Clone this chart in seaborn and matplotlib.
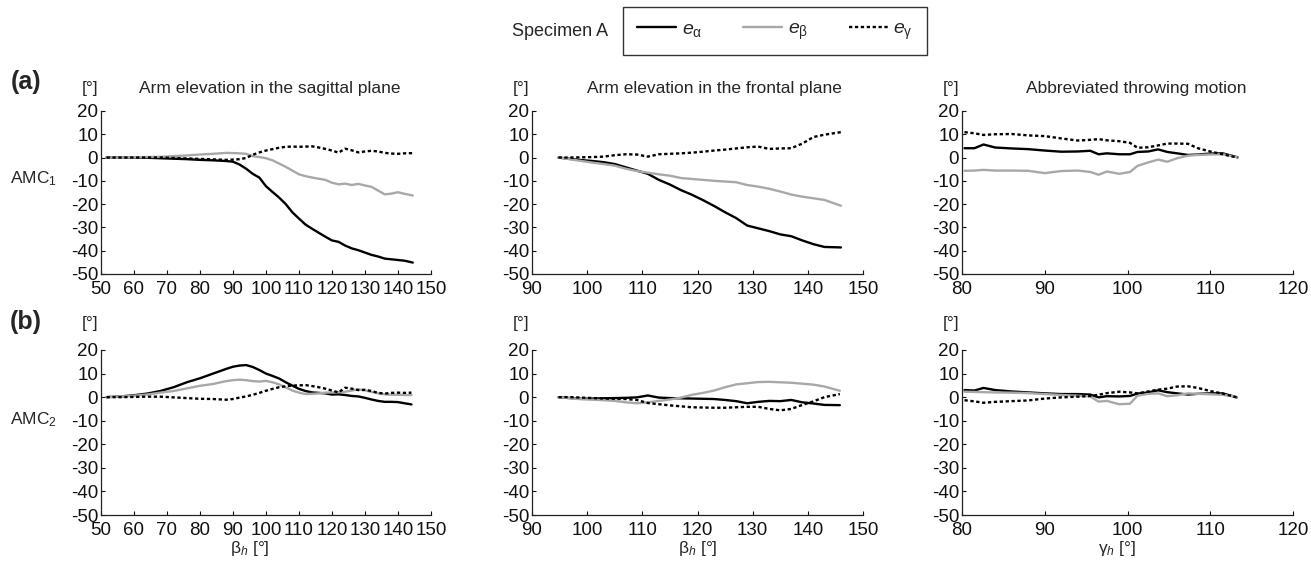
import numpy as np
import pandas as pd
import matplotlib
matplotlib.use("Agg")
import matplotlib.pyplot as plt
import seaborn as sns

# angles in degrees
# row (a) = AMC1, row (b) = AMC2
sag_a_x = [51.7, 56, 60, 64, 68, 72, 76, 80, 84, 88, 90, 92, 94, 96, 98, 100, 102, 104, 106, 108,
           110, 112, 114, 116, 118, 120, 122, 124, 126, 128, 130, 132, 134, 136, 138, 140, 142, 144.5]
sag_a_ea = [0, 0, 0, -0.1, -0.3, -0.5, -0.7, -1.0, -1.2, -1.5, -1.8, -3.0, -4.8, -7.0, -8.6, -12.3, -14.8, -17.2, -20.0, -23.5,
            -26.2, -28.8, -30.6, -32.3, -34.0, -35.6, -36.2, -37.8, -39.0, -39.8, -40.8, -41.8, -42.5, -43.4, -43.7, -44.0, -44.3, -45.1]
sag_a_eb = [0, 0, 0.1, 0.2, 0.3, 0.6, 0.9, 1.3, 1.6, 2.0, 1.9, 1.8, 1.6, 0.6, 0.2, -0.3, -1.2, -2.6, -4.0, -5.6,
            -7.2, -8.0, -8.6, -9.1, -9.6, -10.8, -11.5, -11.2, -11.8, -11.3, -12.0, -12.6, -14.2, -15.8, -15.5, -14.9, -15.6, -16.3]
sag_a_eg = [0, 0, 0, 0, 0, -0.2, -0.4, -0.6, -0.8, -1.0, -0.9, -0.7, -0.2, 1.2, 2.2, 3.0, 3.6, 4.2, 4.6, 4.7,
            4.6, 4.7, 4.8, 4.3, 3.7, 3.0, 2.1, 3.8, 3.1, 2.2, 2.6, 2.9, 2.6, 2.0, 1.7, 1.6, 1.8, 1.9]

front_a_x = [94.8, 97, 99, 101, 103, 105, 107, 109, 111, 113, 115, 117, 119, 121, 123, 125, 127, 129, 131, 133,
             135, 137, 139, 141, 143, 146]
front_a_ea = [0, -0.6, -1.1, -1.5, -2.0, -2.8, -4.2, -5.6, -7.0, -9.6, -11.6, -14.0, -16.0, -18.3, -20.8, -23.5, -26.0, -29.2, -30.4, -31.6,
              -33.0, -33.8, -35.6, -37.2, -38.4, -38.6]
front_a_eb = [0, -0.8, -1.5, -2.2, -2.8, -3.5, -4.8, -5.8, -6.5, -7.2, -7.8, -8.8, -9.2, -9.6, -10.0, -10.3, -10.6, -11.8, -12.5, -13.4,
              -14.6, -15.9, -16.8, -17.5, -18.2, -20.7]
front_a_eg = [0, 0, 0.1, 0.2, 0.4, 1.0, 1.4, 1.3, 0.4, 1.4, 1.6, 1.8, 2.1, 2.5, 3.0, 3.4, 3.9, 4.4, 4.7, 3.7,
              3.9, 4.0, 6.0, 8.8, 9.8, 10.9]

throw_a_x = [80.3, 81.5, 82.6, 84, 86, 88, 90, 92, 94, 95.5, 96.5, 97.5, 99, 100.3, 101.2, 102.5, 103.7, 104.8,
             106, 107.3, 108.5, 110, 111.5, 113.3]
throw_a_ea = [4.0, 4.0, 5.6, 4.3, 3.9, 3.6, 3.0, 2.5, 2.6, 2.9, 1.4, 1.8, 1.4, 1.4, 2.4, 2.6, 3.5, 2.4,
              1.8, 1.1, 1.3, 1.7, 1.8, 0.1]
throw_a_eb = [-5.7, -5.6, -5.3, -5.6, -5.6, -5.7, -6.7, -5.8, -5.6, -6.2, -7.4, -6.0, -7.0, -6.2, -3.6, -2.1, -0.9, -1.8,
              -0.3, 0.8, 1.1, 1.3, 1.4, 0.1]
throw_a_eg = [10.9, 10.4, 9.7, 10.0, 10.1, 9.5, 9.2, 8.2, 7.3, 7.6, 7.9, 7.4, 7.0, 6.3, 4.2, 4.4, 5.2, 6.0,
              6.0, 5.9, 4.0, 2.6, 1.4, 0.0]

sag_b_x = [51.7, 56, 60, 64, 68, 72, 76, 80, 84, 88, 90, 92, 94, 96, 98, 100, 102, 104, 106, 108,
           110, 112, 114, 116, 118, 120, 122, 124, 126, 128, 130, 132, 134, 136, 138, 140, 142, 144.1]
sag_b_ea = [0, 0.3, 0.8, 1.5, 2.6, 4.2, 6.3, 8.0, 10.0, 12.0, 12.9, 13.4, 13.6, 12.8, 11.5, 10.0, 9.0, 7.9, 6.3, 4.9,
            3.5, 2.6, 2.0, 1.8, 1.6, 1.1, 1.2, 0.9, 0.5, 0.3, -0.3, -1.0, -1.6, -2.0, -2.0, -2.1, -2.6, -3.1]
sag_b_eb = [0, 0.3, 0.6, 1.1, 1.9, 2.6, 3.7, 4.8, 5.6, 6.8, 7.2, 7.4, 7.2, 6.8, 6.6, 6.9, 6.3, 5.4, 4.1, 2.8,
            1.9, 1.3, 1.4, 1.6, 1.9, 2.0, 2.1, 2.3, 2.8, 3.3, 2.9, 2.2, 1.6, 1.2, 1.0, 1.0, 0.9, 0.9]
sag_b_eg = [0, 0, 0.1, 0.2, 0.2, -0.1, -0.4, -0.7, -0.8, -1.1, -0.8, -0.2, 0.3, 1.0, 1.8, 2.7, 3.5, 4.2, 4.6, 4.9,
            5.0, 5.1, 4.7, 4.2, 3.6, 2.8, 2.0, 4.0, 3.6, 3.0, 3.1, 2.6, 1.8, 1.5, 1.8, 1.9, 1.8, 1.9]

front_b_x = [94.8, 97, 99, 101, 103, 105, 107, 109, 111, 113, 115, 117, 119, 121, 123, 125, 127, 129, 131, 133,
             135, 137, 139, 141, 143, 145.8]
front_b_ea = [0, -0.4, -0.7, -0.6, -0.5, -0.4, -0.3, -0.1, 0.7, -0.2, -0.4, -0.5, -0.6, -0.7, -0.8, -1.2, -1.7, -2.6, -2.0, -1.6,
              -1.7, -1.2, -2.2, -2.7, -3.3, -3.4]
front_b_eb = [0, -0.5, -0.9, -1.1, -1.3, -1.6, -2.2, -2.6, -2.2, -1.6, -1.0, -0.2, 1.0, 1.8, 2.8, 4.2, 5.4, 5.9, 6.4, 6.5,
              6.3, 6.1, 5.7, 5.3, 4.5, 2.7]
front_b_eg = [0, 0, -0.2, -0.4, -0.6, -0.7, -0.8, -1.2, -2.5, -3.0, -3.5, -3.9, -4.3, -4.4, -4.5, -4.5, -4.3, -4.1, -4.1, -5.0,
              -5.6, -5.0, -3.3, -1.8, 0.0, 1.3]

throw_b_x = [80.3, 81.5, 82.6, 84, 86, 88, 90, 92, 94, 95.5, 96.5, 97.5, 99, 100.3, 101.2, 102.5, 103.7, 104.8,
             106, 107.3, 108.5, 110, 111.5, 113.2]
throw_b_ea = [3.0, 2.8, 3.9, 3.0, 2.4, 2.0, 1.6, 1.3, 1.3, 1.1, -0.1, 0.4, 0.3, 0.5, 1.5, 2.0, 2.9, 2.1,
              1.6, 1.1, 1.4, 1.6, 1.6, -0.1]
throw_b_eb = [2.3, 2.2, 2.1, 2.0, 1.9, 1.7, 1.3, 0.9, 0.6, 0.3, -1.9, -1.6, -3.0, -2.8, 0.6, 1.4, 1.6, 0.4,
              0.8, 1.6, 1.4, 1.2, 1.0, 0.1]
throw_b_eg = [-1.3, -1.8, -2.4, -2.0, -1.7, -1.4, -0.6, -0.1, 0.2, 0.5, 1.0, 1.7, 2.3, 2.0, 1.6, 2.4, 3.2, 3.6,
              4.5, 4.6, 3.9, 2.6, 1.5, -0.1]

titles = ["Arm elevation in the sagittal plane",
          "Arm elevation in the frontal plane",
          "Abbreviated throwing motion"]
xlabels = [r"$\mathrm{\beta}_{h}$ [°]", r"$\mathrm{\beta}_{h}$ [°]", r"$\mathrm{\gamma}_{h}$ [°]"]
xlims = [(50, 150), (90, 150), (80, 120)]
series_names = [r"$e_{\mathrm{\alpha}}$", r"$e_{\mathrm{\beta}}$", r"$e_{\mathrm{\gamma}}$"]

sns.set_style("ticks")
plt.rcParams.update({
    "font.family": ["Liberation Sans", "DejaVu Sans"],
    "mathtext.fontset": "custom",
    "mathtext.rm": "Liberation Sans",
    "mathtext.it": "Liberation Sans:italic",
    "mathtext.bf": "Liberation Sans:bold",
    "axes.unicode_minus": False,
    "axes.edgecolor": "#222222",
    "axes.linewidth": 0.9,
    "axes.spines.top": False,
    "axes.spines.right": False,
    "xtick.direction": "in",
    "ytick.direction": "in",
    "xtick.major.size": 3,
    "ytick.major.size": 3,
    "xtick.major.width": 0.8,
    "ytick.major.width": 0.8,
    "xtick.color": "#111111",
    "ytick.color": "#111111",
    "xtick.labelsize": 13.5,
    "ytick.labelsize": 13.5,
})


def to_long(x, ea, eb, eg):
    frames = []
    for name, y in zip(series_names, [ea, eb, eg]):
        frames.append(pd.DataFrame({"angle": x, "error": y, "axis": name}))
    return pd.concat(frames, ignore_index=True)


panels = [
    [to_long(sag_a_x, sag_a_ea, sag_a_eb, sag_a_eg),
     to_long(front_a_x, front_a_ea, front_a_eb, front_a_eg),
     to_long(throw_a_x, throw_a_ea, throw_a_eb, throw_a_eg)],
    [to_long(sag_b_x, sag_b_ea, sag_b_eb, sag_b_eg),
     to_long(front_b_x, front_b_ea, front_b_eb, front_b_eg),
     to_long(throw_b_x, throw_b_ea, throw_b_eb, throw_b_eg)],
]

palette = dict(zip(series_names, ["black", "#a8a8a8", "black"]))
dashes = dict(zip(series_names, ["", "", (1.4, 1.1)]))

fig = plt.figure(figsize=(13.11, 5.69), dpi=100)

lefts = [0.077, 0.4058, 0.7338]
widths = [0.2517, 0.2525, 0.2525]
bottoms = [0.5185, 0.0949]
heights = [0.2865, 0.29]
title_x = [0.512, 0.55, 0.526]
xlabel_x = [0.45, 0.50, 0.47]

handles, labels = None, None
for r in range(2):
    for c in range(3):
        ax = fig.add_axes([lefts[c], bottoms[r], widths[c], heights[r]])
        sns.lineplot(data=panels[r][c], x="angle", y="error", hue="axis", style="axis",
                     palette=palette, dashes=dashes, linewidth=1.7, ax=ax,
                     legend=(r == 0 and c == 0), estimator=None, sort=False)
        if ax.get_legend() is not None:
            handles, labels = ax.get_legend_handles_labels()
            ax.get_legend().remove()
        ax.set_xlim(*xlims[c])
        ax.set_ylim(-50, 20)
        ax.set_xticks(np.arange(xlims[c][0], xlims[c][1] + 1, 10))
        ax.set_yticks(np.arange(-50, 21, 10))
        ax.tick_params(axis="x", pad=5)
        ax.tick_params(axis="y", pad=2)
        ax.set_xlabel("")
        ax.set_ylabel("")
        deg_y = 1.135 if r == 0 else 1.16
        ax.text(-0.033, deg_y, "[°]", transform=ax.transAxes, ha="center", va="center", fontsize=12.5)
        if r == 0:
            ax.text(title_x[c], 1.135, titles[c], transform=ax.transAxes,
                    ha="center", va="center", fontsize=12.5)
        else:
            ax.text(xlabel_x[c], -0.2, xlabels[c], transform=ax.transAxes,
                    ha="center", va="center", fontsize=12.5)

fig.text(26 / 1311, 1 - 82 / 569, "(a)", fontsize=18, fontweight="bold", ha="center", va="center")
fig.text(26 / 1311, 1 - 322 / 569, "(b)", fontsize=18, fontweight="bold", ha="center", va="center")
fig.text(10 / 1311, 1 - 179 / 569, r"AMC$_{\mathrm{1}}$", fontsize=12.5, ha="left", va="center")
fig.text(10 / 1311, 1 - 420 / 569, r"AMC$_{\mathrm{2}}$", fontsize=12.5, ha="left", va="center")

fig.text(560 / 1311, 1 - 31 / 569, "Specimen A", fontsize=13, ha="center", va="center")
leg = fig.legend(handles, labels, loc="center", bbox_to_anchor=(775 / 1311, 1 - 31 / 569),
                 ncol=3, frameon=True, fancybox=False, edgecolor="black",
                 handlelength=2.0, columnspacing=2.1, handletextpad=0.3,
                 borderpad=0.7, fontsize=14)
leg.get_frame().set_linewidth(1.0)

fig.savefig("out.png", dpi=100)
